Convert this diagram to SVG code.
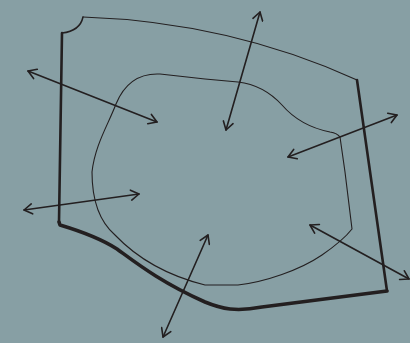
<svg xmlns="http://www.w3.org/2000/svg" width="410" height="343" viewBox="0 0 410 343">
<defs>
<style>
.ln{fill:none;stroke:#231f20;stroke-linecap:round;stroke-linejoin:round}
.ar{fill:none;stroke:#231f20;stroke-width:1.6;stroke-linecap:round;stroke-linejoin:round}
</style>
<marker id="h" viewBox="-10 -6 12 12" markerWidth="12" markerHeight="12" refX="0" refY="0" orient="auto-start-reverse" markerUnits="userSpaceOnUse">
<path d="M-8,-5 L0,0 L-8,5" fill="none" stroke="#231f20" stroke-width="1.6" stroke-linecap="round" stroke-linejoin="round"/>
</marker>
</defs>
<rect width="410" height="343" fill="#879fa4"/>
<g id="outer">
<path class="ln" d="M83,17 Q230,22 357,80" stroke-width="1.2"/>
<path class="ln" d="M62,33 Q80,31 83,17" stroke-width="1.5"/>
<path class="ln" d="M62,33 L59,222" stroke-width="2.6"/>
<path class="ln" d="M357,80 L387,291" stroke-width="2.6"/>
<path class="ln" d="M59,222 L60,225 C80,231 100,238 117,249 C135,262 160,282 205,302 C222,309 236,312 262,307 L387,291" stroke-width="3.6"/>
</g>
<g id="inner">
<path class="ln" stroke-width="1.1" d="M205,79 L160,74 C140,73 125,82 116,104 C108,125 95,145 92,172 C92,200 100,222 115,235 C135,256 165,275 205,285 L238,285 C265,282 300,270 322,255 C335,246 345,238 352,229 L345,172 L340,137 C338,134 336,133 330,132 C310,128 295,120 282,105 C270,92 255,84 238,82 Z"/>
</g>
<g id="connectors">
<line class="ar" x1="28" y1="71" x2="157" y2="122" marker-start="url(#h)" marker-end="url(#h)"/>
<line class="ar" x1="260" y1="12" x2="226" y2="130" marker-start="url(#h)" marker-end="url(#h)"/>
<line class="ar" x1="288" y1="157" x2="397" y2="115" marker-start="url(#h)" marker-end="url(#h)"/>
<line class="ar" x1="24" y1="210" x2="139" y2="194" marker-start="url(#h)" marker-end="url(#h)"/>
<line class="ar" x1="208" y1="235" x2="163" y2="337" marker-start="url(#h)" marker-end="url(#h)"/>
<line class="ar" x1="310" y1="225" x2="409" y2="279" marker-start="url(#h)" marker-end="url(#h)"/>
</g>
</svg>
